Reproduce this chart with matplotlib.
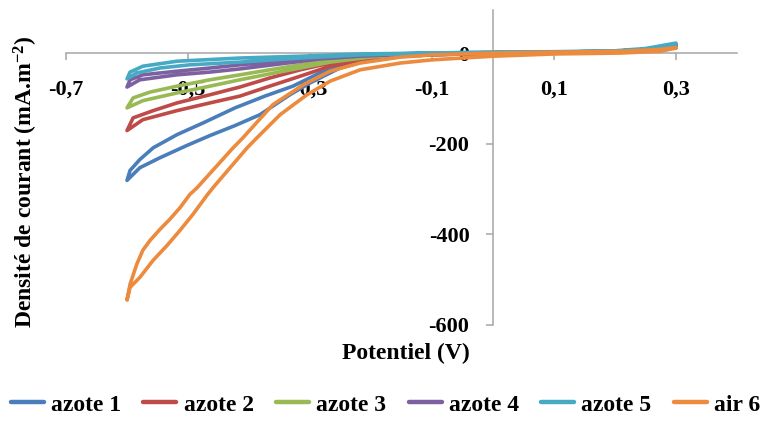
import numpy as np
import matplotlib
matplotlib.use("Agg")
import matplotlib.pyplot as plt

# potential (V) / current density (mA.m-2), each loop read as two branches from the -0.6 V tip
az1_out_x = [-0.600, -0.579, -0.546, -0.502, -0.464, -0.423, -0.382, -0.333, -0.300, -0.251, -0.202, -0.152, -0.100, -0.050, 0.0, 0.1, 0.2, 0.25, 0.3]
az1_out_y = [-281, -253, -231, -204, -182, -160, -136, -92, -66, -33, -15, -7, -4, -2, -1, 1, 3, 7, 16]
az1_in_x = [-0.600, -0.595, -0.579, -0.557, -0.518, -0.475, -0.423, -0.374, -0.328, -0.284, -0.234, -0.152, -0.100, -0.050, 0.0, 0.1, 0.2, 0.25, 0.3]
az1_in_y = [-281, -259, -235, -209, -180, -154, -121, -95, -73, -44, -20, -7, -2, -1, 0, 2, 4, 8, 18]

az2_out_x = [-0.600, -0.574, -0.518, -0.464, -0.415, -0.366, -0.316, -0.267, -0.202, -0.152, -0.100, -0.05, 0.0, 0.1, 0.2, 0.25, 0.3]
az2_out_y = [-171, -147, -127, -110, -95, -73, -51, -29, -13, -7, -4, -2, -1, 1, 3, 7, 16]
az2_in_x = [-0.600, -0.590, -0.557, -0.518, -0.464, -0.415, -0.366, -0.316, -0.267, -0.202, -0.152, -0.100, -0.05, 0.0, 0.1, 0.2, 0.25, 0.3]
az2_in_y = [-171, -143, -127, -110, -92, -75, -55, -37, -22, -11, -4, -2, -1, 0, 2, 4, 8, 18]

az3_out_x = [-0.600, -0.574, -0.518, -0.464, -0.415, -0.366, -0.316, -0.267, -0.202, -0.152, -0.100, -0.05, 0.0, 0.1, 0.2, 0.25, 0.3]
az3_out_y = [-121, -105, -88, -73, -59, -46, -33, -20, -9, -4, -2, -1, 0, 1, 3, 7, 16]
az3_in_x = [-0.600, -0.590, -0.562, -0.518, -0.464, -0.415, -0.366, -0.316, -0.267, -0.202, -0.152, -0.100, -0.05, 0.0, 0.1, 0.2, 0.25, 0.3]
az3_in_y = [-121, -99, -86, -73, -59, -48, -37, -26, -15, -7, -2, -1, 0, 1, 2, 4, 8, 18]

az4_out_x = [-0.600, -0.579, -0.518, -0.464, -0.415, -0.349, -0.284, -0.218, -0.152, -0.100, -0.05, 0.0, 0.1, 0.2, 0.25, 0.3]
az4_out_y = [-75, -59, -48, -42, -35, -24, -13, -7, -3, -2, -1, 0, 1, 3, 7, 16]
az4_in_x = [-0.600, -0.595, -0.574, -0.518, -0.464, -0.415, -0.349, -0.284, -0.218, -0.152, -0.100, -0.05, 0.0, 0.1, 0.2, 0.25, 0.3]
az4_in_y = [-75, -59, -48, -40, -33, -26, -18, -9, -4, -2, -1, 0, 1, 2, 4, 8, 18]

az5_out_x = [-0.600, -0.584, -0.546, -0.497, -0.415, -0.316, -0.218, -0.103, -0.05, 0.0, 0.1, 0.2, 0.25, 0.3]
az5_out_y = [-57, -44, -33, -26, -20, -11, -4, 0, 1, 1, 2, 4, 8, 18]
az5_in_x = [-0.600, -0.595, -0.574, -0.518, -0.415, -0.316, -0.218, -0.103, -0.05, 0.0, 0.1, 0.2, 0.25, 0.3]
az5_in_y = [-57, -42, -29, -18, -11, -7, -2, 0, 1, 2, 3, 5, 10, 22]

air6_out_x = [-0.600, -0.595, -0.579, -0.557, -0.534, -0.513, -0.492, -0.469, -0.459, -0.403, -0.387, -0.349, -0.305, -0.267, -0.218, -0.152, -0.100, -0.051, 0.0, 0.100, 0.208, 0.274, 0.300]
air6_out_y = [-545, -517, -495, -457, -424, -391, -356, -314, -297, -209, -187, -136, -92, -62, -37, -22, -15, -11, -7, -2, 0, 4, 11]
air6_in_x = [-0.600, -0.595, -0.584, -0.574, -0.562, -0.546, -0.530, -0.513, -0.497, -0.485, -0.426, -0.410, -0.361, -0.311, -0.267, -0.218, -0.152, -0.100, -0.051, 0.0, 0.100, 0.208, 0.274, 0.300]
air6_in_y = [-545, -510, -466, -435, -413, -389, -367, -341, -312, -297, -209, -187, -114, -70, -40, -22, -9, -4, -2, 0, 2, 4, 8, 12]

labels = ['azote 1', 'azote 2', 'azote 3', 'azote 4', 'azote 5', 'air 6']
colors = ['#4A7EBB', '#BE4B48', '#98B954', '#7D60A0', '#46AAC5', '#EC8A3E']
series = [
    (az1_in_x, az1_in_y, az1_out_x, az1_out_y),
    (az2_in_x, az2_in_y, az2_out_x, az2_out_y),
    (az3_in_x, az3_in_y, az3_out_x, az3_out_y),
    (az4_in_x, az4_in_y, az4_out_x, az4_out_y),
    (az5_in_x, az5_in_y, az5_out_x, az5_out_y),
    (air6_in_x, air6_in_y, air6_out_x, air6_out_y),
]
xticks = [-0.7, -0.5, -0.3, -0.1, 0.1, 0.3]
xtick_labels = ['-0,7', '-0,5', '-0,3', '-0,1', '0,1', '0,3']
yticks = [-600, -400, -200, 0]
ytick_labels = ['-600', '-400', '-200', '0']

plt.rcParams['font.family'] = ['Liberation Serif', 'DejaVu Serif']
plt.rcParams['font.weight'] = 'bold'
plt.rcParams['mathtext.fontset'] = 'custom'
plt.rcParams['mathtext.rm'] = 'Liberation Serif:bold'
plt.rcParams['mathtext.it'] = 'Liberation Serif:bold'
plt.rcParams['mathtext.bf'] = 'Liberation Serif:bold'
plt.rcParams['mathtext.default'] = 'rm'

fig = plt.figure(figsize=(7.71, 4.21), dpi=100)
ax = fig.add_axes([66 / 771, 96 / 421, 671 / 771, 315 / 421])

for (ix, iy, ox, oy), lab, col in zip(series, labels, colors):
    x = np.concatenate([ix[::-1], ox[1:]])
    y = np.concatenate([iy[::-1], oy[1:]])
    ax.plot(x, y, color=col, lw=2.6, label=lab, solid_joinstyle='round', solid_capstyle='round')

ax.set_xlim(-0.7, 0.4)
ax.set_ylim(-600, 95)
for s in ['top', 'right']:
    ax.spines[s].set_visible(False)
ax.spines['left'].set_position(('data', 0))
ax.spines['bottom'].set_position(('data', 0))
for s in ['left', 'bottom']:
    ax.spines[s].set_color('#A6A6A6')
    ax.spines[s].set_linewidth(1.1)
    ax.spines[s].set_zorder(0.5)

ax.set_xticks(xticks)
ax.set_xticklabels(xtick_labels)
ax.set_yticks(yticks)
ax.set_yticklabels(ytick_labels)
ax.tick_params(axis='x', direction='out', length=5, width=1.1, color='#A6A6A6', pad=14, labelsize=16)
ax.tick_params(axis='y', direction='out', length=5, width=1.1, color='#A6A6A6', pad=12, labelsize=16)
for t in ax.get_xticklabels() + ax.get_yticklabels():
    t.set_fontweight('bold')

fig.text(26 / 771, 1 - 182 / 421, 'Densité de courant (mA.m$^{-2}$)', rotation=90,
         ha='center', va='center', fontsize=17, fontweight='bold')
fig.text(406 / 771, 1 - 353 / 421, 'Potentiel (V)', ha='center', va='center',
         fontsize=17, fontweight='bold')

fig.legend(loc='center', bbox_to_anchor=(0.5, 1 - 405 / 421), ncol=6, frameon=False,
           prop={'size': 17, 'weight': 'bold'}, handlelength=1.4, handletextpad=0.3,
           columnspacing=0.95, borderaxespad=0)
for line in fig.legends[0].get_lines():
    line.set_linewidth(3.2)

fig.savefig('out.png', dpi=100)
